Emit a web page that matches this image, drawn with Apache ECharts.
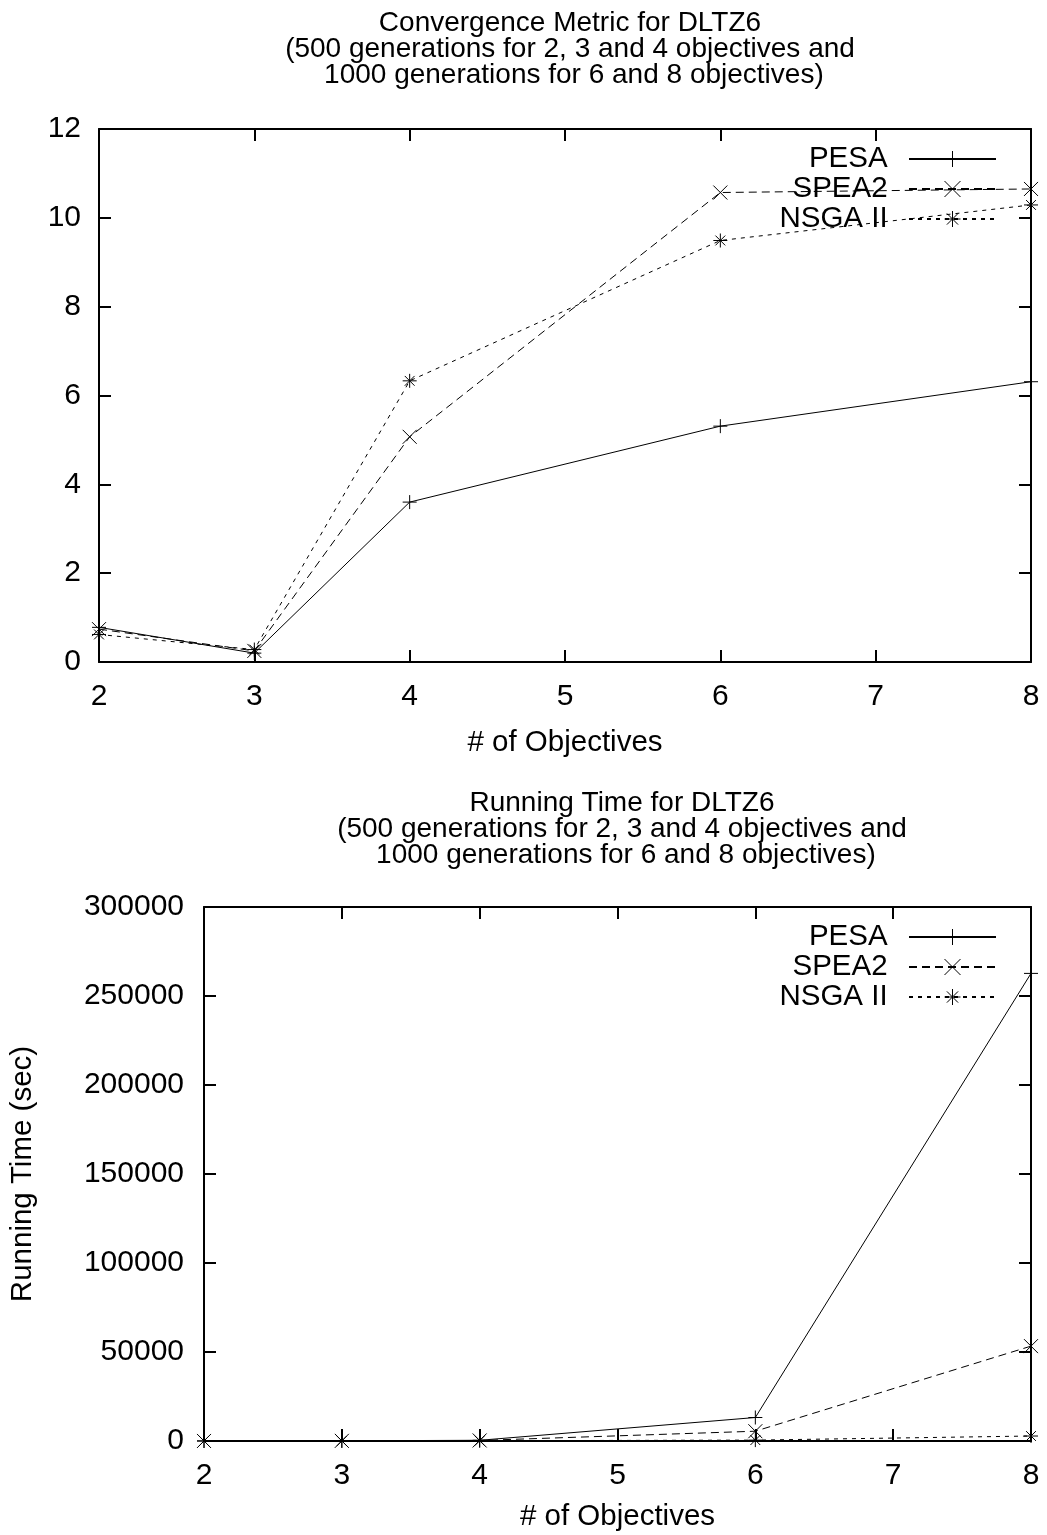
<!DOCTYPE html>
<html>
<head>
<meta charset="utf-8">
<script src="https://cdn.jsdelivr.net/npm/echarts@6/dist/echarts.min.js"></script>
<style>
html,body{margin:0;padding:0;background:#fff;}
#c{width:1047px;height:1535px;}
</style>
</head>
<body>
<div id="c"></div>
<script>
// ---- data ----
var objectives = [2, 3, 4, 6, 8];
var seriesNames = ['PESA', 'SPEA2', 'NSGA II'];

var convPESA  = [0.78, 0.20, 3.60, 5.31, 6.31];
var convSPEA2 = [0.74, 0.25, 5.07, 10.57, 10.65];
var convNSGA  = [0.62, 0.28, 6.33, 9.49, 10.29];

var timePESA  = [30, 100, 400, 13200, 262700];
var timeSPEA2 = [20, 80, 300, 5500, 53300];
var timeNSGA  = [10, 40, 150, 500, 2800];

var xTicks = [2, 3, 4, 5, 6, 7, 8];
var convYTicks = [0, 2, 4, 6, 8, 10, 12];
var timeYTicks = [0, 50000, 100000, 150000, 200000, 250000, 300000];

var title1 = 'Convergence Metric for DLTZ6\n(500 generations for 2, 3 and 4 objectives and\n 1000 generations for 6 and 8 objectives)';
var title2 = 'Running Time for DLTZ6\n(500 generations for 2, 3 and 4 objectives and\n 1000 generations for 6 and 8 objectives)';
var xName = '# of Objectives';
var y2Name = 'Running Time (sec)';

// ---- styling ----
var FONT = 'Liberation Sans, Arial, Helvetica, sans-serif';
var FS = 29.5;
var TFS = 30;
var symPlus = 'path://M0,5L10,5M5,0L5,10';
var symCross = 'path://M0,0L10,10M10,0L0,10';
var symStar = 'path://M0,5L10,5M5,0L5,10M1.5,1.5L8.5,8.5M8.5,1.5L1.5,8.5';
var symbols = [symPlus, symCross, symStar];
var dashes = ['solid', [8, 5], [4, 5]];

function pairs(ys) { return objectives.map(function (x, i) { return [x, ys[i]]; }); }

function mkSeries(name, idx, ys, axisIdx) {
  return {
    name: name, type: 'line', xAxisIndex: axisIdx, yAxisIndex: axisIdx,
    data: pairs(ys), clip: false,
    symbol: symbols[idx], symbolSize: 14, showAllSymbol: true,
    lineStyle: { color: '#000', width: 1, type: dashes[idx] },
    itemStyle: { color: '#000', borderColor: '#000', borderWidth: 1 },
    emphasis: { disabled: true }, z: 3
  };
}

var axisLine = { show: true, onZero: false, lineStyle: { color: '#000', width: 2 } };
var tick = { show: true, inside: true, length: 12, lineStyle: { color: '#000', width: 2 } };
var labelStyle = { color: '#000', fontSize: TFS, fontFamily: FONT };
var nameStyle = { color: '#000', fontSize: FS, fontFamily: FONT };
var plainNum = function (v) { return String(v); };

function xAxes(grid, nameGap) {
  return [
    { type: 'value', gridIndex: grid, position: 'bottom', min: xTicks[0], max: xTicks[xTicks.length - 1], interval: 1,
      axisLine: axisLine, axisTick: tick, splitLine: { show: false },
      axisLabel: Object.assign({ margin: 20, formatter: plainNum }, labelStyle),
      name: xName, nameLocation: 'middle', nameGap: nameGap, nameTextStyle: nameStyle },
    { type: 'value', gridIndex: grid, position: 'top', min: xTicks[0], max: xTicks[xTicks.length - 1], interval: 1,
      axisLine: axisLine, axisTick: tick, splitLine: { show: false }, axisLabel: { show: false } }
  ];
}
function yAxes(grid, ticks, margin, name, nameGap) {
  var a = { type: 'value', gridIndex: grid, position: 'left', min: ticks[0], max: ticks[ticks.length - 1],
      interval: ticks[1] - ticks[0],
      axisLine: axisLine, axisTick: tick, splitLine: { show: false },
      axisLabel: Object.assign({ margin: margin, formatter: plainNum }, labelStyle) };
  if (name) { a.name = name; a.nameLocation = 'middle'; a.nameGap = nameGap; a.nameTextStyle = nameStyle; }
  return [a,
    { type: 'value', gridIndex: grid, position: 'right', min: ticks[0], max: ticks[ticks.length - 1],
      interval: ticks[1] - ticks[0],
      axisLine: axisLine, axisTick: tick, splitLine: { show: false }, axisLabel: { show: false } }];
}

var xa = xAxes(0, 66).concat(xAxes(1, 61));
var ya = yAxes(0, convYTicks, 18).concat(yAxes(1, timeYTicks, 20, y2Name, 166));

var series = [
  mkSeries(seriesNames[0], 0, convPESA, 0),
  mkSeries(seriesNames[1], 1, convSPEA2, 0),
  mkSeries(seriesNames[2], 2, convNSGA, 0),
  mkSeries(seriesNames[0], 0, timePESA, 2),
  mkSeries(seriesNames[1], 1, timeSPEA2, 2),
  mkSeries(seriesNames[2], 2, timeNSGA, 2)
];

function legend(top) {
  return {
    orient: 'vertical', align: 'right', right: 45, top: top,
    itemWidth: 87, itemHeight: 20, itemGap: 0, selectedMode: false,
    data: seriesNames,
    formatter: function (n) { return n + '  '; },
    textStyle: { color: '#000', fontSize: FS, fontFamily: FONT, lineHeight: 30 },
    itemStyle: { borderWidth: 1 }
  };
}

var option = {
  backgroundColor: '#fff',
  animation: false,
  title: [
    { text: title1, left: 565, top: 5, textAlign: 'center',
      textStyle: { color: '#000', fontSize: 28, fontWeight: 'normal', fontFamily: FONT, lineHeight: 26 } },
    { text: title2, left: 617, top: 785, textAlign: 'center',
      textStyle: { color: '#000', fontSize: 28, fontWeight: 'normal', fontFamily: FONT, lineHeight: 26 } }
  ],
  legend: [legend(139), legend(917)],
  grid: [
    { left: 99, right: 16, top: 129, height: 533 },
    { left: 203, right: 16, top: 907, height: 534 }
  ],
  xAxis: xa,
  yAxis: ya,
  series: series
};

var chart = echarts.init(document.getElementById('c'), null, { renderer: 'canvas' });
chart.setOption(option);
</script>
</body>
</html>
